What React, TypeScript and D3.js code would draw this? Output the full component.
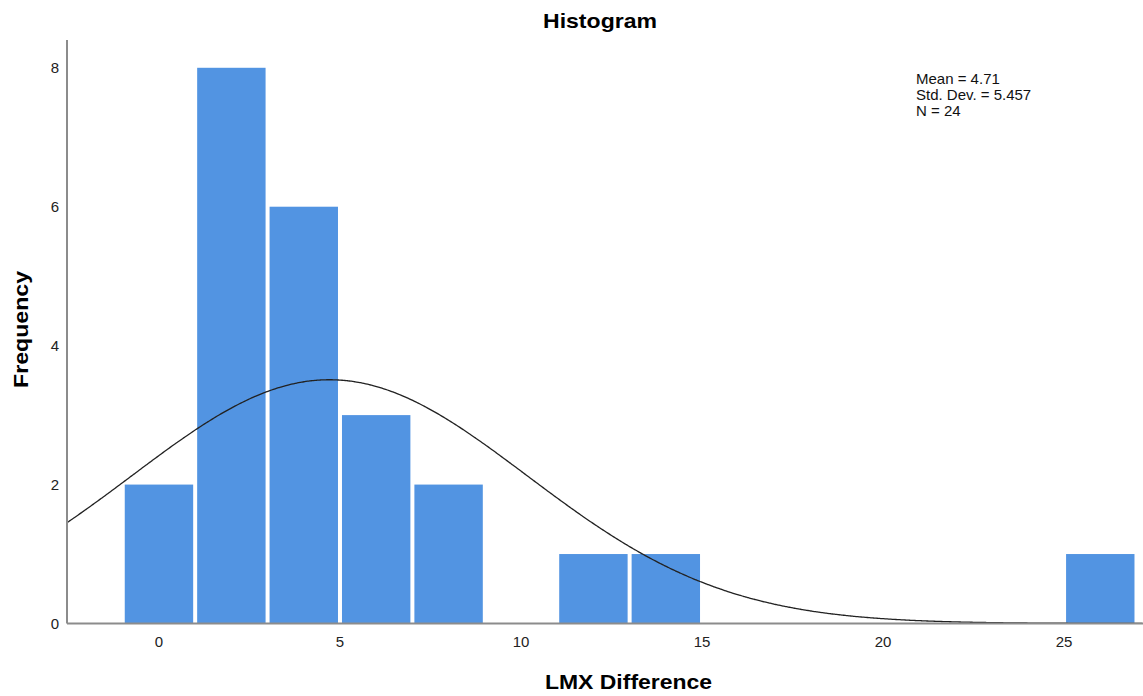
import React, { useEffect, useRef } from "react";
import * as d3 from "d3";

// histogram bins (lower edge, width 2) and their counts
const binStarts = [-1, 1, 3, 5, 7, 9, 11, 13, 15, 17, 19, 21, 23, 25];
const counts = [2, 8, 6, 3, 2, 0, 1, 1, 0, 0, 0, 0, 0, 1];
const binWidth = 2;

const xTicks = [0, 5, 10, 15, 20, 25];
const yTicks = [0, 2, 4, 6, 8];

const statsLines = ["Mean = 4.71", "Std. Dev. = 5.457", "N = 24"];
const mean = 4.71;
const sd = 5.457;
const n = 24;

const W = 1143;
const H = 696;

const App = () => {
  const svgRef = useRef<SVGSVGElement>(null);

  useEffect(() => {
    const svg = d3.select(svgRef.current);
    svg.selectAll("*").remove();

    const left = 67;
    const right = 1143;
    const bottom = 623.5;
    const top = 40;
    const font = "'Liberation Sans', Arial, sans-serif";

    const x = d3.scaleLinear().domain([-2.54, 27.18]).range([left, right]);
    const y = d3.scaleLinear().domain([0, 8.4]).range([bottom, top]);

    svg
      .append("rect")
      .attr("width", W)
      .attr("height", H)
      .attr("fill", "#ffffff");

    // bars
    const bins = binStarts.map((s, i) => ({ start: s, count: counts[i] }));
    svg
      .append("g")
      .selectAll("rect")
      .data(bins.filter((d) => d.count > 0))
      .enter()
      .append("rect")
      .attr("x", (d) => x(d.start) + 2)
      .attr("width", (d) => x(d.start + binWidth) - x(d.start) - 4)
      .attr("y", (d) => y(d.count))
      .attr("height", (d) => y(0) - y(d.count))
      .attr("fill", "#5294e2");

    // normal curve
    const scale = (n * binWidth) / (sd * Math.sqrt(2 * Math.PI));
    const xs = d3.range(-2.54, 27.19, 0.05);
    const line = d3
      .line<number>()
      .x((v) => x(v))
      .y((v) => y(scale * Math.exp(-0.5 * ((v - mean) / sd) ** 2)))
      .curve(d3.curveBasis);
    svg
      .append("path")
      .datum(xs)
      .attr("d", line)
      .attr("fill", "none")
      .attr("stroke", "#222222")
      .attr("stroke-width", 1.3);

    // axes lines
    svg
      .append("line")
      .attr("x1", left)
      .attr("x2", right)
      .attr("y1", bottom)
      .attr("y2", bottom)
      .attr("stroke", "#8c8c8c")
      .attr("stroke-width", 2);
    svg
      .append("line")
      .attr("x1", left)
      .attr("x2", left)
      .attr("y1", top)
      .attr("y2", bottom)
      .attr("stroke", "#8c8c8c")
      .attr("stroke-width", 2);

    // tick labels
    svg
      .append("g")
      .selectAll("text")
      .data(xTicks)
      .enter()
      .append("text")
      .attr("x", (d) => x(d))
      .attr("y", 647)
      .attr("text-anchor", "middle")
      .attr("font-family", font)
      .attr("font-size", 15)
      .attr("fill", "#222")
      .text((d) => d);

    svg
      .append("g")
      .selectAll("text")
      .data(yTicks)
      .enter()
      .append("text")
      .attr("x", 59)
      .attr("y", (d) => y(d) + 5)
      .attr("text-anchor", "end")
      .attr("font-family", font)
      .attr("font-size", 15)
      .attr("fill", "#222")
      .text((d) => d);

    // titles
    svg
      .append("text")
      .attr("x", 543)
      .attr("y", 28)
      .attr("font-family", font)
      .attr("font-weight", "bold")
      .attr("font-size", 21)
      .attr("textLength", 114)
      .attr("lengthAdjust", "spacingAndGlyphs")
      .text("Histogram");

    svg
      .append("text")
      .attr("x", 545)
      .attr("y", 689)
      .attr("font-family", font)
      .attr("font-weight", "bold")
      .attr("font-size", 21)
      .attr("textLength", 167)
      .attr("lengthAdjust", "spacingAndGlyphs")
      .text("LMX Difference");

    svg
      .append("text")
      .attr("transform", "translate(28,388) rotate(-90)")
      .attr("font-family", font)
      .attr("font-weight", "bold")
      .attr("font-size", 21)
      .attr("textLength", 117)
      .attr("lengthAdjust", "spacingAndGlyphs")
      .text("Frequency");

    // stats box
    svg
      .append("g")
      .selectAll("text")
      .data(statsLines)
      .enter()
      .append("text")
      .attr("x", 916)
      .attr("y", (d, i) => 84 + i * 16)
      .attr("font-family", font)
      .attr("font-size", 15)
      .attr("fill", "#111")
      .text((d) => d);
  }, []);

  return (
    <svg
      ref={svgRef}
      width={W}
      height={H}
      style={{ position: "absolute", left: 0, top: 0 }}
    ></svg>
  );
};

export default App;
